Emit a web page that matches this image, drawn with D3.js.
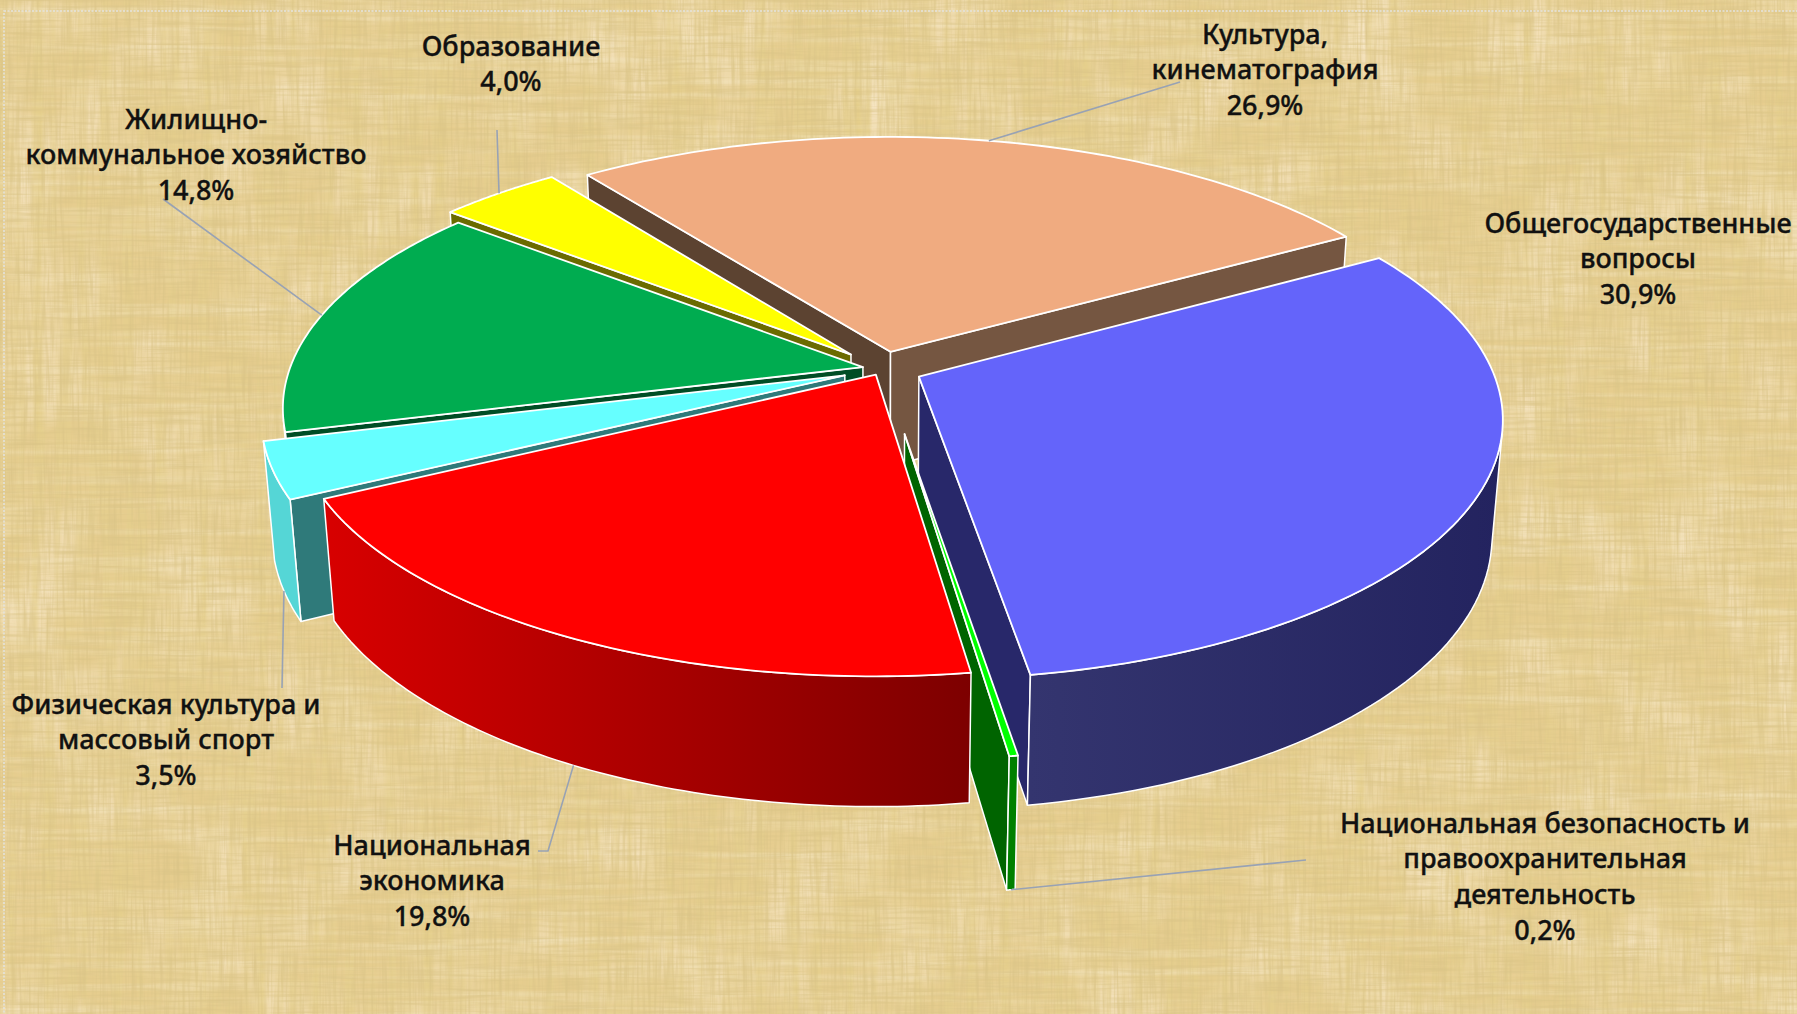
<!DOCTYPE html>
<html>
<head>
<meta charset="utf-8">
<script src="https://cdn.jsdelivr.net/npm/d3@7"></script>
<style>
    html, body { margin: 0; padding: 0; overflow: hidden; background: #e6cf95; }
    text { font-family: "Noto Sans", "Open Sans", sans-serif; fill: #111; }
</style>
</head>
<body>
<div id="chart"></div>
<script>
// Data
const categories = [
    ["Общегосударственные", "вопросы"],
    ["Национальная безопасность и", "правоохранительная", "деятельность"],
    ["Национальная", "экономика"],
    ["Физическая культура и", "массовый спорт"],
    ["Жилищно-", "коммунальное хозяйство"],
    ["Образование"],
    ["Культура,", "кинематография"]
]
const shares = [30.9, 0.2, 19.8, 3.5, 14.8, 4.0, 26.9]
const shareLabels = ["30,9%", "0,2%", "19,8%", "3,5%", "14,8%", "4,0%", "26,9%"]

// Layout
const width = 1797
const height = 1014
const firstAngle = 60 * Math.PI / 180
const explode = [0.07, 0.25, 0.025, 0.07, 0.035, 0.08, 0.07]
const wallHeight = 0.228

const slicePaint = [
    {top: "#6464fa", start: "#28286a", end: "#28286a", arc: ["#23235f", "#34356f"]},
    {top: "#00ff00", start: "#006400", end: "#006400", arc: ["#008000", "#008000"]},
    {top: "#ff0000", start: "#8a0000", end: "#8a0000", arc: ["#7d0000", "#d80000"]},
    {top: "#66ffff", start: "#2f7a7a", end: "#2f7a7a", arc: ["#55d6d6", "#55d6d6"]},
    {top: "#00ac50", start: "#004d25", end: "#004d25", arc: ["#007a39", "#007a39"]},
    {top: "#ffff00", start: "#6b6b00", end: "#6b6b00", arc: ["#9a9a00", "#9a9a00"]},
    {top: "#f0ab80", start: "#5c4331", end: "#755641", arc: ["#8a6550", "#8a6550"]}
]

// back to front
const drawOrder = [6, 5, 4, 3, 0, 1, 2]

const labelLayout = [
    {x: 1638, y: 222, leader: null, atBottom: false},
    {x: 1545, y: 822, leader: [[1306, 860]], atBottom: true},
    {x: 432, y: 844, leader: [[538, 851], [548, 851]], atBottom: true},
    {x: 166, y: 703, leader: [[282, 688]], atBottom: true},
    {x: 196, y: 118, leader: [[163, 199]], atBottom: false},
    {x: 511, y: 45, leader: [[497, 130]], atBottom: false},
    {x: 1265, y: 33, leader: [[1180, 82]], atBottom: false}
]
const lineGap = 35.8

// Perspective of the pie plane
const elev = 26.2 * Math.PI / 180
const camDist = 5.8
const focal = 3325
const cx = 882.5
const cy = 369

function project(X, Y, z) {
    const depth = camDist - Y * Math.cos(elev) - z * Math.sin(elev)
    const s = focal / depth
    return [cx + X * s, cy + (Y * Math.sin(elev) - z * Math.cos(elev)) * s]
}

const svg = d3.select("#chart")
    .append("svg")
    .attr("width", width)
    .attr("height", height)

const defs = svg.append("defs")

// Papyrus background
function streakFilter(id, freq, seed, rgb, gain, bias) {
    const f = defs.append("filter")
        .attr("id", id)
        .attr("x", 0).attr("y", 0).attr("width", 1).attr("height", 1)
    f.append("feTurbulence")
        .attr("type", "fractalNoise")
        .attr("baseFrequency", freq)
        .attr("numOctaves", 2)
        .attr("seed", seed)
    f.append("feColorMatrix")
        .attr("type", "matrix")
        .attr("values", `0 0 0 0 ${rgb[0]} 0 0 0 0 ${rgb[1]} 0 0 0 0 ${rgb[2]} ${gain} 0 0 0 ${bias}`)
}
streakFilter("patches", "0.012 0.012", 7, [0.93, 0.79, 0.56], 2.2, -0.95)
streakFilter("streakV", "0.09 0.004", 4, [0.78, 0.62, 0.26], 2.2, -0.8)
streakFilter("streakH", "0.003 0.14", 9, [0.92, 0.83, 0.6], 1, -0.44)
streakFilter("fineV", "0.35 0.02", 3, [0.7, 0.55, 0.24], 1.6, -0.64)
streakFilter("fineH", "0.02 0.35", 5, [0.7, 0.55, 0.24], 1.6, -0.68)

svg.append("rect").attr("width", width).attr("height", height).attr("fill", "#e6cd8f")
;["patches", "streakV", "streakH", "fineV", "fineH"].forEach(id => {
    svg.append("rect")
        .attr("width", width)
        .attr("height", height)
        .attr("filter", `url(#${id})`)
})

svg.append("rect")
    .attr("x", 4).attr("y", 11)
    .attr("width", width + 20).attr("height", height + 20)
    .attr("fill", "none")
    .attr("stroke", "#e4e4e0")
    .attr("stroke-width", 1.5)
    .attr("stroke-dasharray", "2 1.5")

// Pie
const arcs = d3.pie()
    .sort(null)
    .startAngle(firstAngle)
    .endAngle(firstAngle + 2 * Math.PI)(shares)

const line = d3.line()

function shiftFor(i) {
    const mid = (arcs[i].startAngle + arcs[i].endAngle) / 2
    return [explode[i] * Math.sin(mid), -explode[i] * Math.cos(mid)]
}

// position on slice i: angle a, radius r (pie radius = 1), height z
function slicePoint(i, a, r, z) {
    const shift = shiftFor(i)
    return project(shift[0] + r * Math.sin(a), shift[1] - r * Math.cos(a), z)
}

const piece = svg.append("g")

drawOrder.forEach(i => {
    const d = arcs[i]
    const paint = slicePaint[i]
    const g = piece.append("g")
    const bottom = -wallHeight

    const steps = d3.range(0, 81).map(t => d.startAngle + (d.endAngle - d.startAngle) * t / 80)
    const topRim = steps.map(a => slicePoint(i, a, 1, 0))
    const apex = slicePoint(i, 0, 0, 0)
    const apexLow = slicePoint(i, 0, 0, bottom)

    // radial walls, only when they face the camera
    const startWall = [apex, topRim[0], slicePoint(i, d.startAngle, 1, bottom), apexLow]
    const endWall = [apex, apexLow, slicePoint(i, d.endAngle, 1, bottom), topRim[80]]
    const walls = [
        {pts: startWall, fill: paint.start},
        {pts: endWall, fill: paint.end}
    ].filter(w => d3.polygonArea(w.pts) > 0)

    walls.forEach(w => {
        g.append("path")
            .attr("d", line(w.pts) + "Z")
            .attr("fill", w.fill)
            .attr("stroke", "#fff")
            .attr("stroke-width", 1.5)
            .attr("stroke-linejoin", "round")
    })

    // outer wall: the front facing part of the rim
    const front = steps.filter((a, k) => {
        if (k === 80) return false
        const b = steps[k + 1]
        return d3.polygonArea([slicePoint(i, a, 1, 0), slicePoint(i, a, 1, bottom), slicePoint(i, b, 1, bottom), slicePoint(i, b, 1, 0)]) < 0
    })
    if (front.length > 0) {
        const last = front[front.length - 1] + (d.endAngle - d.startAngle) / 80
        const rim = front.concat([last])
        const upper = rim.map(a => slicePoint(i, a, 1, 0))
        const lower = rim.map(a => slicePoint(i, a, 1, bottom))
        const gradId = `wall-${i}`
        const grad = defs.append("linearGradient")
            .attr("id", gradId)
            .attr("gradientUnits", "userSpaceOnUse")
            .attr("x1", d3.min(upper, p => p[0])).attr("y1", 0)
            .attr("x2", d3.max(upper, p => p[0])).attr("y2", 0)
        grad.append("stop").attr("offset", 0).attr("stop-color", paint.arc[1])
        grad.append("stop").attr("offset", 1).attr("stop-color", paint.arc[0])
        g.append("path")
            .attr("d", line(upper.concat(lower.reverse())) + "Z")
            .attr("fill", `url(#${gradId})`)
            .attr("stroke", "#fff")
            .attr("stroke-width", 1.5)
            .attr("stroke-linejoin", "round")
    }

    // top face
    g.append("path")
        .attr("d", line([apex].concat(topRim)) + "Z")
        .attr("fill", paint.top)
        .attr("stroke", "#fff")
        .attr("stroke-width", 1.8)
        .attr("stroke-linejoin", "round")
})

// Leader lines
const leaders = svg.append("g")
    .attr("fill", "none")
    .attr("stroke", "#98a2b4")
    .attr("stroke-width", 1.6)

arcs.forEach((d, i) => {
    const spot = labelLayout[i]
    if (!spot.leader) return
    const mid = (d.startAngle + d.endAngle) / 2
    const end = slicePoint(i, mid, 1, spot.atBottom ? -wallHeight : 0)
    leaders.append("path").attr("d", line(spot.leader.concat([end])))
})

// Labels
const labels = svg.append("g")
    .attr("text-anchor", "middle")
    .attr("font-size", 27)
    .attr("font-weight", 500)
    .attr("stroke", "#111")
    .attr("stroke-width", 0.35)

categories.forEach((lines, i) => {
    const spot = labelLayout[i]
    lines.concat([shareLabels[i]]).forEach((txt, k) => {
        labels.append("text")
            .attr("x", spot.x)
            .attr("y", spot.y + k * lineGap)
            .attr("dominant-baseline", "central")
            .text(txt)
    })
})
</script>
</body>
</html>
